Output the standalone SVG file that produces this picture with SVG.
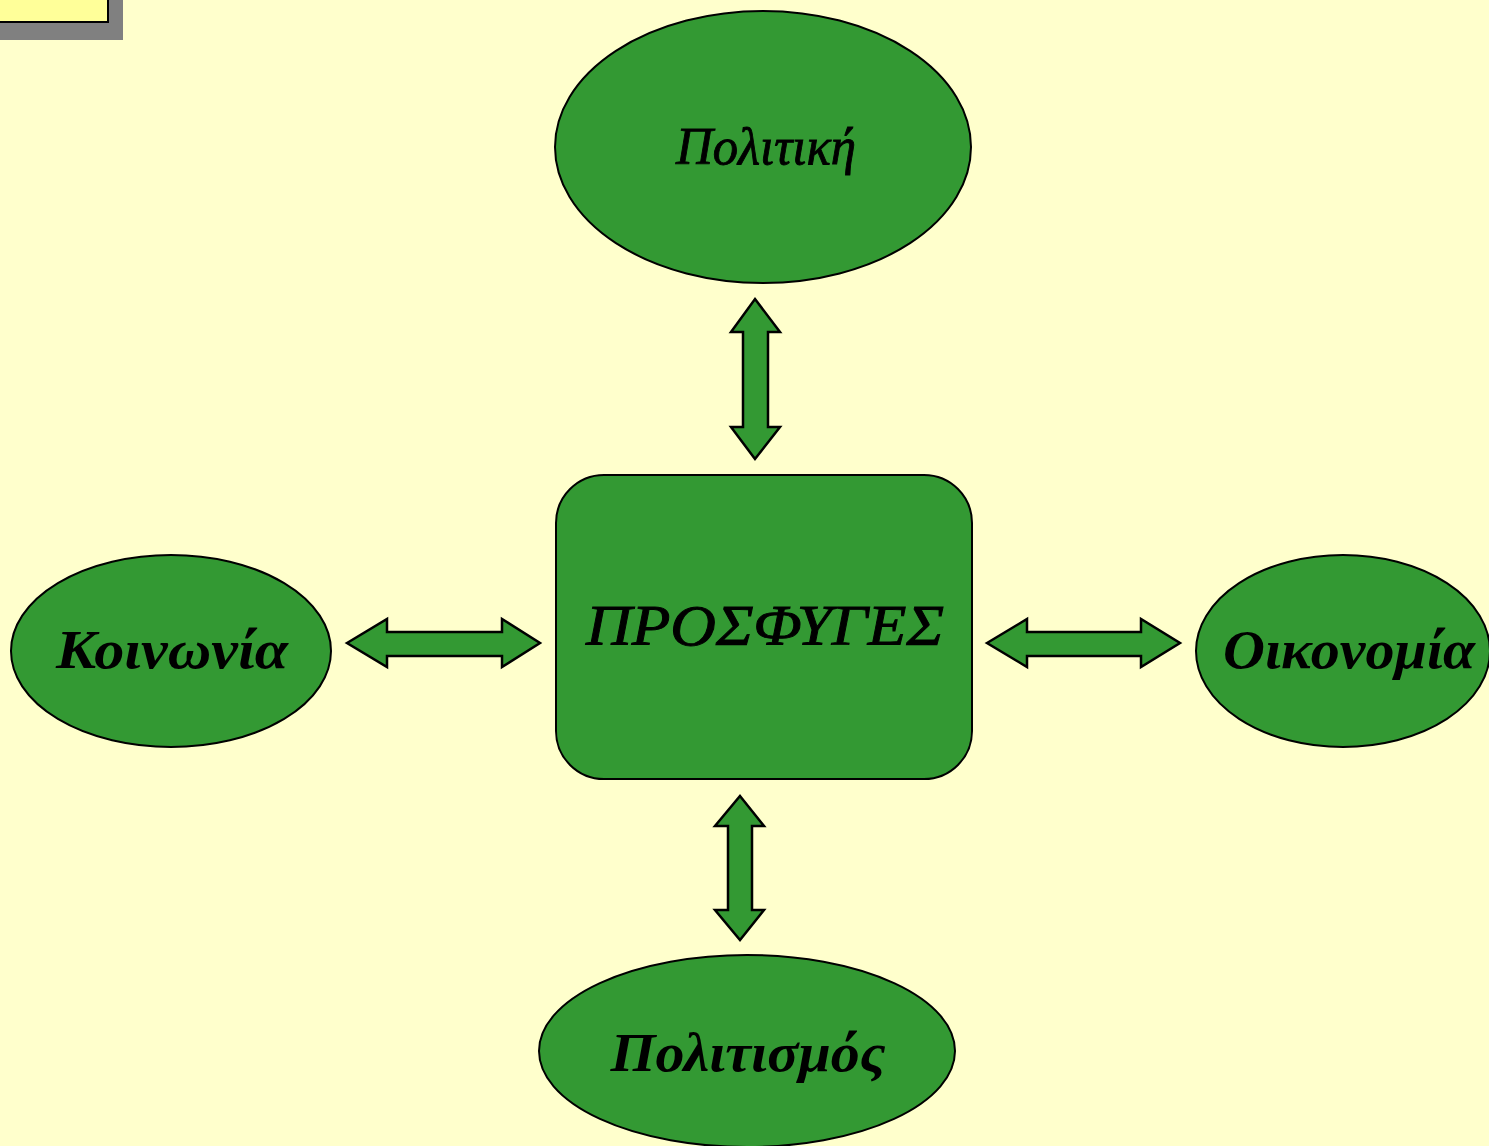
<svg xmlns="http://www.w3.org/2000/svg" width="1489" height="1146" viewBox="0 0 1489 1146">
<style>
.n{fill:#339933;stroke:#000;stroke-width:2}
.a{fill:#339933;stroke:#000;stroke-width:2.5;stroke-linejoin:miter}
.t{font-family:"Liberation Serif","DejaVu Serif",serif;font-style:italic;fill:#000;text-anchor:middle}
.s{stroke:#000;stroke-width:0.9}
</style>
<rect width="1489" height="1146" fill="#FFFFCC"/>
<g id="note">
<rect x="0" y="0" width="123" height="40" fill="#808080"/>
<rect x="-10" y="-10" width="118" height="32" fill="#FFFF99" stroke="#000" stroke-width="2"/>
</g>
<g id="connectors">
<polygon class="a" points="755,299 780,332 768,332 768,427 780,427 755,459 731,427 743,427 743,332 731,332"/>
<polygon class="a" points="740,796 764,826 752,826 752,910 764,910 740,940 715,910 728,910 728,826 715,826"/>
<polygon class="a" points="347,643 387,619 387,632 502,632 502,619 540,643 502,667 502,656 387,656 387,667"/>
<polygon class="a" points="987,643 1027,619 1027,632 1141,632 1141,619 1180,643 1141,667 1141,656 1027,656 1027,667"/>
</g>
<g id="politiki">
<ellipse class="n" cx="763" cy="147" rx="208" ry="136"/>
<text class="t s" x="766" y="164" font-size="52" textLength="180" lengthAdjust="spacingAndGlyphs">Πολιτική</text>
</g>
<g id="prosfyges">
<rect class="n" x="556" y="475" width="416" height="304" rx="48"/>
<text class="t s" x="765" y="645" font-size="56" textLength="358" lengthAdjust="spacingAndGlyphs">ΠΡΟΣΦΥΓΕΣ</text>
</g>
<g id="koinonia">
<ellipse class="n" cx="171" cy="651" rx="160" ry="96"/>
<text class="t" x="172" y="668" font-size="54" font-weight="bold" textLength="232" lengthAdjust="spacingAndGlyphs">Κοινωνία</text>
</g>
<g id="oikonomia">
<ellipse class="n" cx="1343" cy="651" rx="147" ry="96"/>
<text class="t" x="1349" y="668" font-size="54" font-weight="bold" textLength="252" lengthAdjust="spacingAndGlyphs">Οικονομία</text>
</g>
<g id="politismos">
<ellipse class="n" cx="747" cy="1051" rx="208" ry="96"/>
<text class="t" x="748" y="1071" font-size="54" font-weight="bold" textLength="275" lengthAdjust="spacingAndGlyphs">Πολιτισμός</text>
</g>
</svg>
